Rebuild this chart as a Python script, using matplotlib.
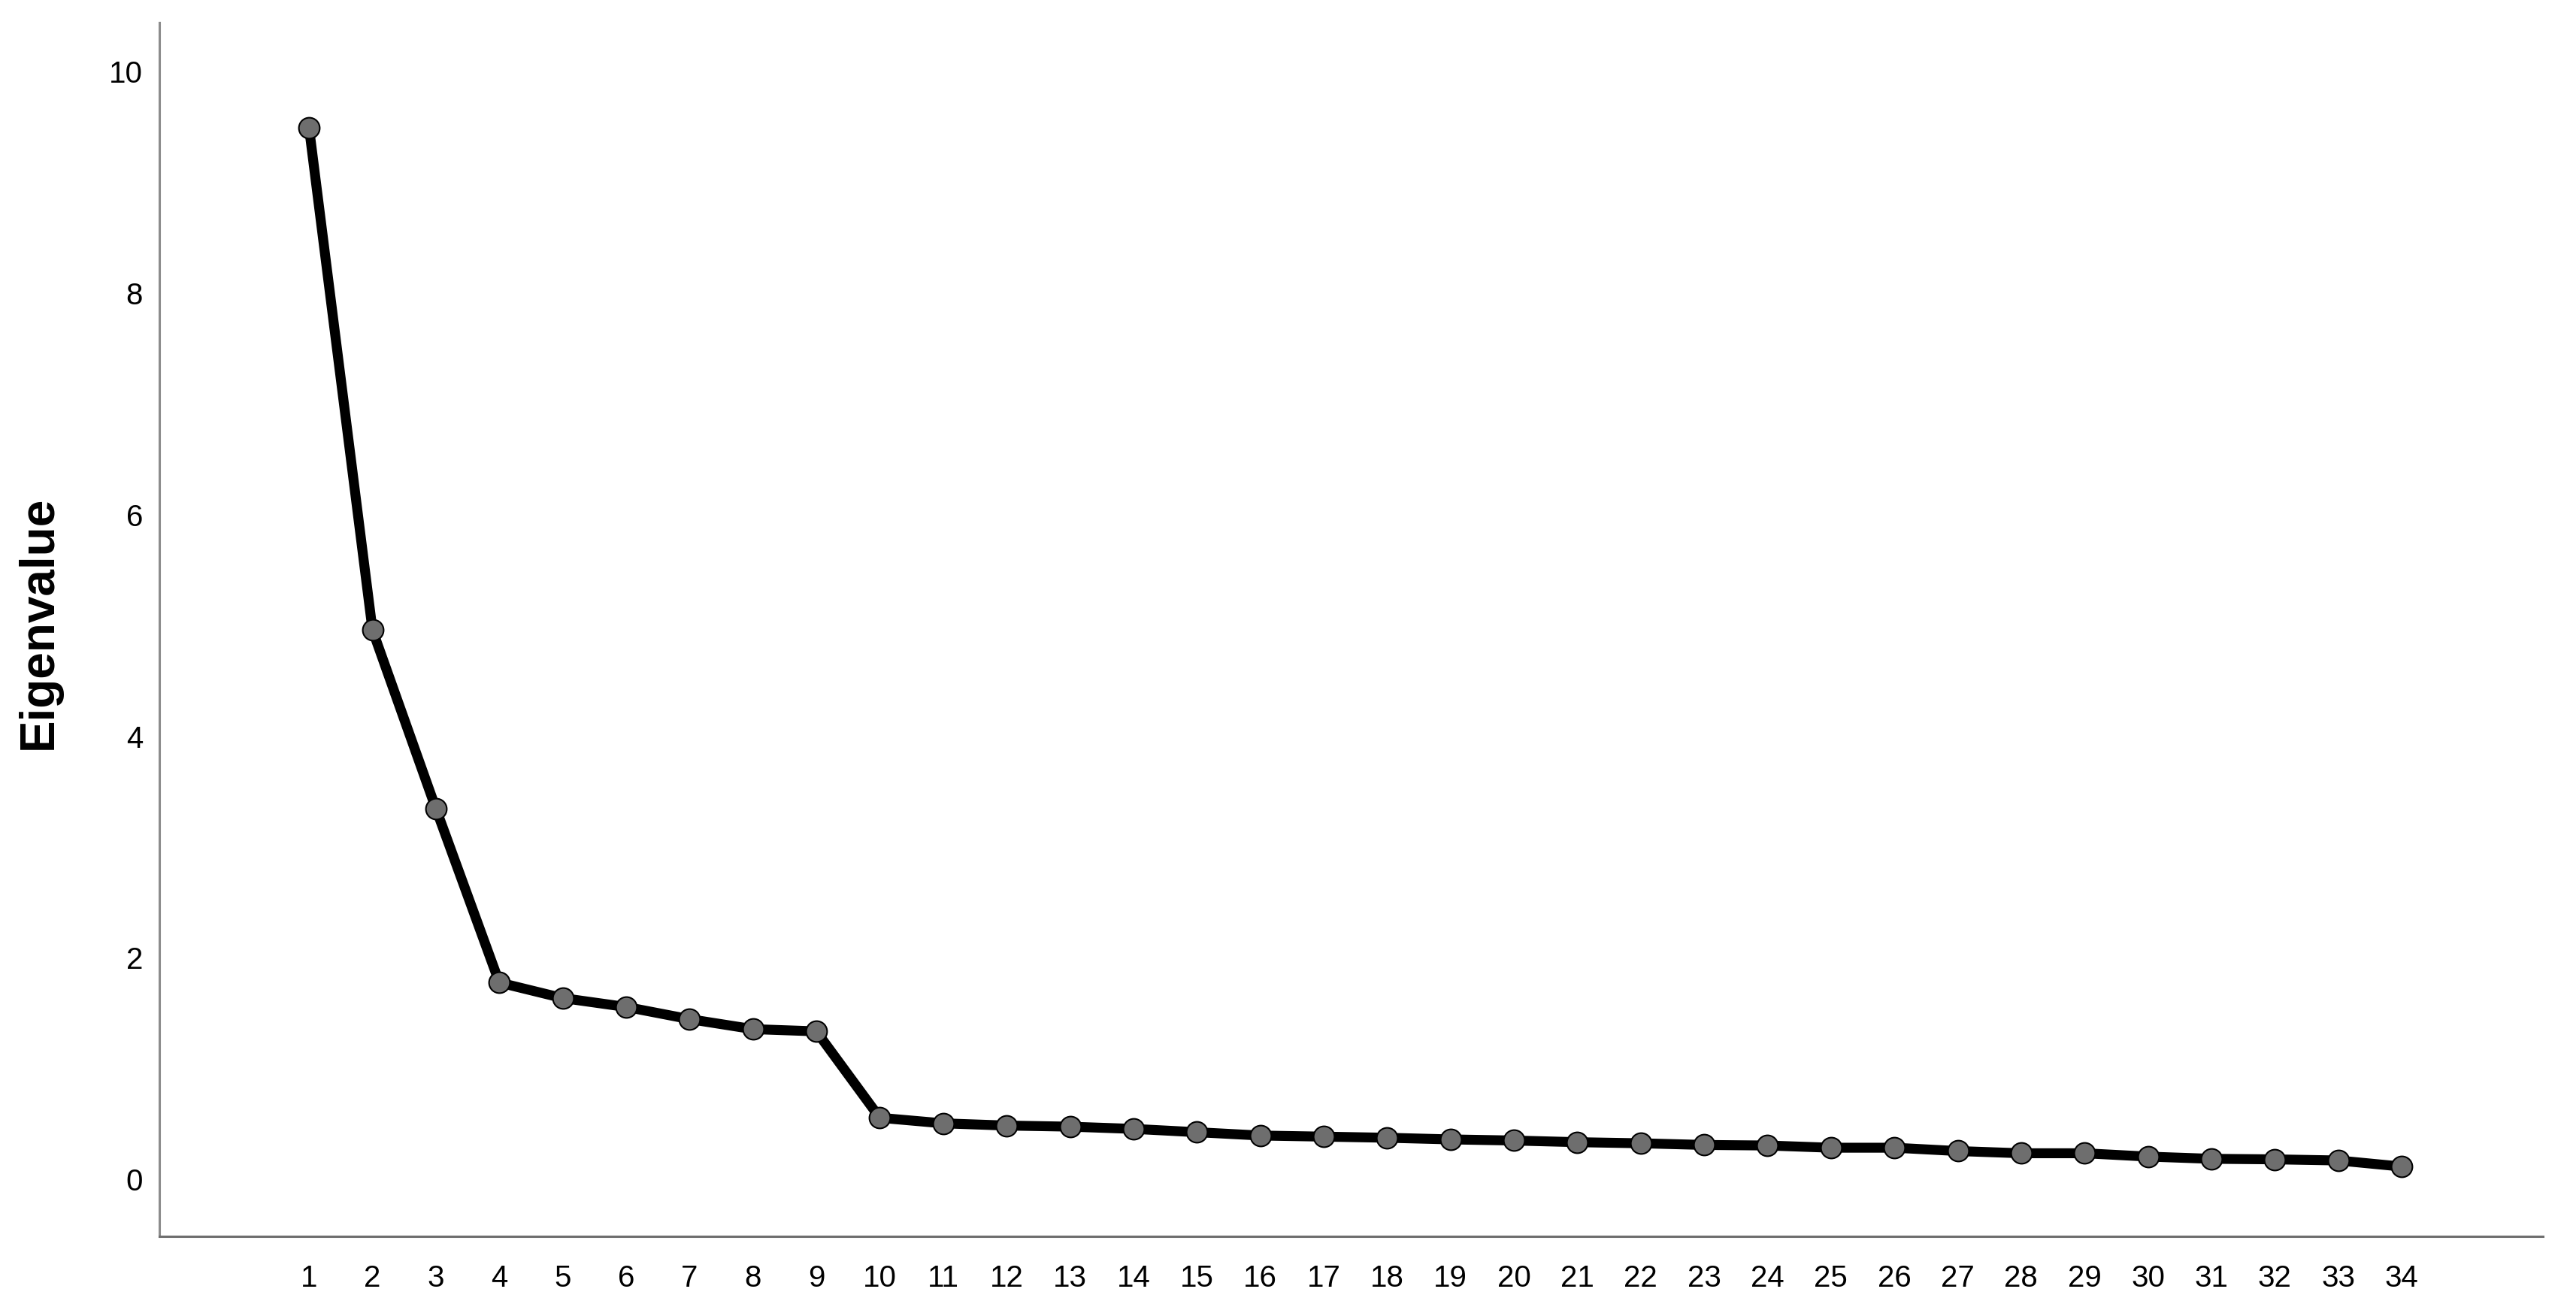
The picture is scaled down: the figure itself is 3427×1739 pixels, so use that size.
import matplotlib
matplotlib.use("Agg")
import matplotlib.pyplot as plt

plt.rcParams['font.family'] = ['Liberation Sans', 'DejaVu Sans']

components = list(range(1, 35))
eigenvalues = [9.48, 4.95, 3.34, 1.77, 1.63, 1.55, 1.44, 1.35, 1.33, 0.55,
               0.50, 0.48, 0.47, 0.45, 0.42, 0.39, 0.38, 0.37, 0.355, 0.345,
               0.33, 0.32, 0.305, 0.30, 0.28, 0.28, 0.25, 0.23, 0.23, 0.20,
               0.18, 0.175, 0.165, 0.11]
ytick_vals = [0, 2, 4, 6, 8, 10]

fig = plt.figure(figsize=(34.27, 17.40), dpi=100)
ax = fig.add_axes([0.0619, 0.054, 0.9253, 0.928])

ax.plot(components, eigenvalues, color='black', linewidth=9.5,
        marker='o', markersize=20, markerfacecolor='#6e6e6e',
        markeredgecolor='black', markeredgewidth=1.5,
        solid_joinstyle='round', zorder=3)

ax.set_xlim(-1.36, 36.23)
ax.set_ylim(-0.52, 10.43)
ax.set_xticks(components)
ax.set_xticklabels([str(c) for c in components])
ax.set_yticks(ytick_vals)
ax.tick_params(axis='both', length=0, labelsize=29, colors='black')
ax.tick_params(axis='x', pad=26)
ax.tick_params(axis='y', pad=16)

for side in ['top', 'right']:
    ax.spines[side].set_visible(False)
ax.spines['left'].set_color('#8c8c8c')
ax.spines['bottom'].set_color('#6e6e6e')
ax.spines['left'].set_linewidth(2.2)
ax.spines['bottom'].set_linewidth(2.2)

fig.text(52 / 3427, 1 - 828 / 1740, 'Eigenvalue', rotation=90,
         ha='center', va='center', fontsize=46, fontweight='bold')

fig.savefig('out.png', dpi=100, facecolor='white')
